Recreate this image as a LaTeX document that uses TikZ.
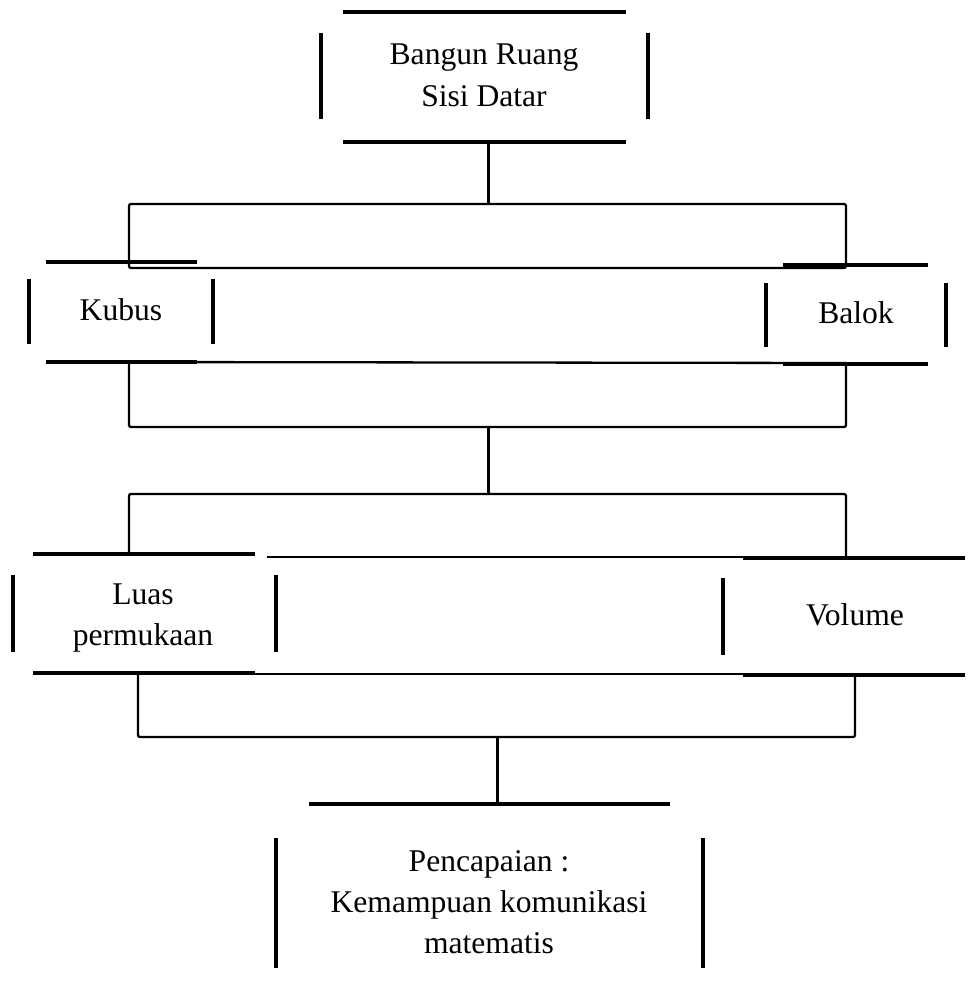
\documentclass[tikz,border=0pt]{standalone}
\usepackage{fontspec}
\setmainfont{Liberation Serif}
\begin{document}
\begin{tikzpicture}[x=1pt,y=-1pt,
  thickline/.style={line width=4pt},
  thinline/.style={line width=2.3pt, rounded corners=2pt},
  stemline/.style={line width=3pt},
  lbl/.style={font=\fontsize{31.6}{41}\selectfont, align=center, inner sep=0pt, anchor=base}]
\useasboundingbox (0,0) rectangle (975,998);

% labels (base anchor = baseline of the last line)
\node[lbl] (root) at (484,106) {Bangun Ruang\\Sisi Datar};
\node[lbl] (kubus) at (121,320) {Kubus};
\node[lbl] (balok) at (856,323) {Balok};
\node[lbl] (luas) at (143,645) {Luas\\permukaan};
\node[lbl] (volume) at (855,625) {Volume};
\node[lbl] (capai) at (489,953) {Pencapaian :\\Kemampuan komunikasi\\matematis};

% root box
\draw[thickline] (343,12) -- (626,12);
\draw[thickline] (321,33) -- (321,119);
\draw[thickline] (648,33) -- (648,119);
\draw[thickline] (343,142) -- (626,142);

% connector coordinates
\coordinate (s1a) at (488,142);
\coordinate (s1b) at (488,204);
\coordinate (s2a) at (488,427);
\coordinate (s2b) at (488,494);
\coordinate (s3a) at (497,737);
\coordinate (s3b) at (497,804);

\draw[stemline] (s1a) -- (s1b);
% bracket 1
\draw[thinline] (129,268) -- (129,204) -- (846,204) -- (846,268) -- cycle;

% Kubus box
\draw[thickline] (46,262) -- (197,262);
\draw[thickline] (29,279) -- (29,344);
\draw[thickline] (213,279) -- (213,344);
\draw[thickline] (46,362) -- (197,362);

% Balok box
\draw[thickline] (783,265) -- (928,265);
\draw[thickline] (766,283) -- (766,347);
\draw[thickline] (946,283) -- (946,347);
\draw[thickline] (783,364) -- (928,364);

% bracket 2
\draw[thinline] (129,362) -- (846,363);
\draw[thinline] (129,362) -- (129,427) -- (846,427) -- (846,364);
\draw[stemline] (s2a) -- (s2b);

% bracket 3
\draw[thinline] (129,554) -- (129,494) -- (846,494) -- (846,557);

% Luas box
\draw[thickline] (33,554) -- (255,554);
\draw[thickline] (13,575) -- (13,652);
\draw[thickline] (276,575) -- (276,652);
\draw[thickline] (33,673) -- (255,673);
\draw[thinline] (267,557) -- (743,557);

% Volume box
\draw[thickline] (743,558) -- (965,558);
\draw[thickline] (723,578) -- (723,655);
\draw[thickline] (743,675) -- (965,675);
\draw[thinline] (255,674) -- (743,674);

% bracket 4
\draw[thinline] (138,673) -- (138,737) -- (855,737) -- (855,675);
\draw[stemline] (s3a) -- (s3b);

% Pencapaian box
\draw[thickline] (309,804) -- (670,804);
\draw[thickline] (276,838) -- (276,968);
\draw[thickline] (703,838) -- (703,968);
\end{tikzpicture}
\end{document}
